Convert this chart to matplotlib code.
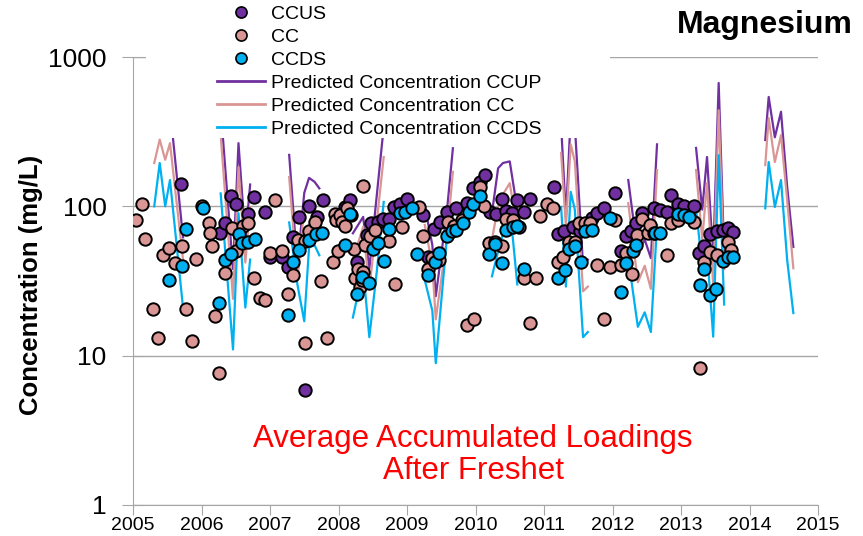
import numpy as np
import matplotlib
matplotlib.use("Agg")
import matplotlib.pyplot as plt
from matplotlib.patches import Rectangle
from matplotlib.lines import Line2D
from matplotlib.ticker import FixedLocator, NullLocator

plt.rcParams['font.family'] = ['Liberation Sans', 'DejaVu Sans']
nan = np.nan

ccus_t = [2005.70, 2006.27, 2006.34, 2006.43, 2006.51, 2006.68, 2006.77, 2006.93,
          2007.00, 2007.18, 2007.26, 2007.33, 2007.43, 2007.57, 2007.68, 2007.78,
          2007.51, 2008.09, 2008.17, 2008.27, 2008.41, 2008.48, 2008.58, 2008.65,
          2008.73, 2008.81, 2008.90, 2009.00, 2009.24, 2009.31, 2009.40, 2009.48,
          2009.58, 2009.72, 2009.87, 2009.97, 2010.07, 2010.14, 2010.21, 2010.30,
          2010.38, 2010.45, 2010.53, 2010.61, 2010.71, 2010.80, 2011.14, 2011.21,
          2011.29, 2011.42, 2011.52, 2011.62, 2011.70, 2011.77, 2011.87, 2012.03,
          2012.12, 2012.20, 2012.27, 2012.35, 2012.43, 2012.60, 2012.69, 2012.79,
          2012.86, 2012.96, 2013.04, 2013.19, 2013.27, 2013.34, 2013.42, 2013.52,
          2013.61, 2013.69, 2013.76]
ccus_v = [141, 66, 77, 118, 104, 89, 115, 92,
          46, 46, 39.5, 62, 85, 100, 85, 111,
          5.9, 99, 110, 42.5, 64, 77, 79, 82,
          82, 99, 104, 112, 87.5, 46, 71, 78,
          92, 97, 105, 132, 146, 162, 92, 89,
          112, 93, 90, 110, 92, 112, 134, 65,
          68, 73, 68, 69, 83, 90, 98, 123,
          50.5, 63, 68, 77, 90, 97, 94, 91,
          120, 103, 101, 101, 49, 54, 65, 68,
          69, 72, 67]

cc_t = [2005.05, 2005.13, 2005.18, 2005.29, 2005.37, 2005.44, 2005.52, 2005.62,
        2005.71, 2005.77, 2005.86, 2005.92, 2006.01, 2006.11, 2006.12, 2006.15,
        2006.19, 2006.26, 2006.34, 2006.44, 2006.51, 2006.61, 2006.68, 2006.77,
        2006.85, 2006.93, 2007.00, 2007.08, 2007.17, 2007.26, 2007.34, 2007.41,
        2007.51, 2007.51, 2007.57, 2007.66, 2007.75, 2007.83, 2007.92, 2007.95,
        2007.97, 2007.99, 2008.02, 2008.05, 2008.09, 2008.13, 2008.18, 2008.22,
        2008.24, 2008.28, 2008.31, 2008.34, 2008.36, 2008.36, 2008.39, 2008.46,
        2008.53, 2008.73, 2008.82, 2008.92, 2009.17, 2009.24, 2009.31, 2009.36,
        2009.46, 2009.60, 2009.68, 2009.80, 2009.87, 2009.98, 2010.06, 2010.13,
        2010.19, 2010.28, 2010.38, 2010.45, 2010.55, 2010.63, 2010.71, 2010.80,
        2010.89, 2010.94, 2011.04, 2011.13, 2011.21, 2011.28, 2011.36, 2011.45,
        2011.51, 2011.60, 2011.67, 2011.78, 2011.87, 2011.96, 2012.04, 2012.12,
        2012.20, 2012.29, 2012.36, 2012.43, 2012.52, 2012.55, 2012.60, 2012.79,
        2012.85, 2012.96, 2013.19, 2013.28, 2013.34, 2013.42, 2013.52, 2013.69,
        2013.73]
cc_v = [81, 103, 60, 20.5, 13.2, 47, 53, 41.5,
        54.5, 20.5, 12.5, 44.5, 101, 77, 66, 54.5,
        18.3, 7.6, 35.5, 72, 50.5, 74, 77, 33,
        24.2, 23.6, 49, 110, 50.5, 26, 34.7, 59.5,
        59, 12.1, 68, 79, 31.5, 13.2, 42.5, 89,
        81, 50.5, 87, 79, 74, 97, 87.5, 51.5,
        33, 38, 29, 32, 36.5, 137, 55, 63,
        69, 59, 30, 73, 99, 63, 38, 45,
        44, 79, 74, 81, 16, 17.7, 135, 101,
        56.5, 58, 54, 82, 81, 73, 33, 16.5,
        33, 86, 103, 97, 42.5, 46, 58, 58,
        77, 77, 77, 40.5, 17.7, 39.5, 81, 40.5,
        49, 35, 64, 82, 66, 75, 66, 47,
        77, 81, 79, 8.3, 42.5, 49.5, 47, 58,
        51]

ccds_t = [2005.53, 2005.71, 2005.78, 2006.02, 2006.25, 2006.35, 2006.43, 2006.55,
          2006.59, 2006.68, 2006.78, 2007.26, 2007.34, 2007.43, 2007.57, 2007.67,
          2007.76, 2008.09, 2008.17, 2008.27, 2008.34, 2008.44, 2008.51, 2008.58,
          2008.67, 2008.74, 2008.90, 2008.97, 2009.07, 2009.14, 2009.31, 2009.41,
          2009.47, 2009.58, 2009.65, 2009.72, 2009.82, 2009.90, 2009.97, 2010.06,
          2010.20, 2010.29, 2010.38, 2010.45, 2010.55, 2010.61, 2010.71, 2011.21,
          2011.30, 2011.36, 2011.45, 2011.54, 2011.60, 2011.70, 2011.96, 2012.12,
          2012.20, 2012.30, 2012.35, 2012.62, 2012.69, 2012.96, 2013.04, 2013.11,
          2013.28, 2013.33, 2013.42, 2013.51, 2013.62, 2013.68, 2013.76]
ccds_v = [32, 40, 70, 98, 22.5, 43.7, 48, 65,
          57, 58, 60, 18.7, 42.5, 51, 59.5, 65,
          66, 55, 89, 26, 33.5, 30.5, 52, 57,
          43, 71, 90, 92, 97, 48, 34.7, 42.5,
          49, 63, 68, 69, 77, 92, 103, 117,
          48, 56, 41.5, 69, 73, 74, 38, 33,
          37.4, 52, 54, 42.5, 68, 69, 84, 26.5,
          42, 50.5, 55, 66, 66, 89, 87, 85,
          29.7, 38, 25.5, 28, 43, 46, 46]

# --- predicted concentrations (nan = gap between runs)
pred_t = [2005.31, 2005.39, 2005.47, 2005.54, 2005.73, 2005.9,
          2006.28, 2006.46, 2006.54, 2006.64, 2006.71, 2006.9,
          2007.28, 2007.40, 2007.50, 2007.57, 2007.65, 2007.72, 2007.9,
          2008.21, 2008.36, 2008.45, 2008.56, 2008.66, 2008.9,
          2009.26, 2009.37, 2009.42, 2009.58, 2009.67, 2009.9,
          2010.24, 2010.33, 2010.40, 2010.50, 2010.61, 2010.9,
          2011.25, 2011.32, 2011.39, 2011.45, 2011.57, 2011.64, 2011.9,
          2012.23, 2012.37, 2012.47, 2012.56, 2012.65, 2012.9,
          2013.22, 2013.31, 2013.38, 2013.47, 2013.55, 2013.63, 2013.9,
          2014.23, 2014.28, 2014.37, 2014.46, 2014.55, 2014.64]
pred_ccup = [300, 500, 320, 450, 62, nan,
             450, 38, 265, 60, 140, nan,
             221, 40, 123, 155, 146, 132, nan,
             66, 85, 38, 120, 340, nan,
             100, 55, 25, 90, 245, nan,
             90, 180, 195, 200, 95, nan,
             350, 85, 400, 350, 40, 44, nan,
             150, 48, 60, 45, 260, nan,
             246, 95, 214, 45, 670, 48, nan,
             278, 540, 290, 430, 135, 53.5]
pred_cc = [195, 280, 205, 265, 44, nan,
           300, 24, 183, 42, 99, nan,
           157, 32, 99, 100, 95, 90, nan,
           44, 73, 28, 80, 214, nan,
           75, 40, 17.5, 60, 170, nan,
           60, 100, 120, 143, 70, nan,
           228, 73, 260, 200, 27, 29, nan,
           105, 31, 40, 28, 175, nan,
           175, 60, 143, 30, 440, 38, nan,
           189, 390, 198, 300, 110, 38.5]
pred_ccds = [100, 195, 100, 150, 21, nan,
             122, 11, 90, 21, 44, nan,
             78, 30, 17, 53, 55, 47, nan,
             18, 38, 13.3, 37, 107, nan,
             32, 20, 8.9, 60, 90, nan,
             34, 50, 65, 100, 30, nan,
             99, 29, 125, 95, 13.3, 14.4, nan,
             45, 15.6, 19.5, 14.4, 75, nan,
             95, 40, 50, 13.4, 220, 22, nan,
             97, 198, 99, 150, 43.7, 19.3]

years = list(range(2005, 2016))
ylevels = [1, 10, 100, 1000]

PURPLE, PINK, CYAN, GREY = "#7030A0", "#D99694", "#00B0F0", "#A6A6A6"

fig = plt.figure(figsize=(8.63, 5.36), dpi=100)
ax = fig.add_axes([133 / 863, 31 / 536, 685 / 863, 448 / 536])
ax.set_yscale("log")
ax.set_xlim(2005, 2015)
ax.set_ylim(1, 1000)

ax.plot(pred_t, pred_ccup, color=PURPLE, lw=1.6, zorder=2)
ax.plot(pred_t, pred_cc, color=PINK, lw=1.6, zorder=2)
ax.plot(pred_t, pred_ccds, color=CYAN, lw=1.6, zorder=2)

mk = dict(s=80, edgecolors="black", linewidths=1.4, zorder=3)
ax.scatter(ccus_t, ccus_v, c=PURPLE, **mk)
ax.scatter(cc_t, cc_v, c=PINK, **mk)
ax.scatter(ccds_t, ccds_v, c=CYAN, **mk)

# axes styling (Excel look)
for s in ("top", "right"):
    ax.spines[s].set_visible(False)
for s in ("left", "bottom"):
    ax.spines[s].set_color(GREY)
ax.set_axisbelow(True)
ax.grid(axis="y", color=GREY, lw=1)
ax.yaxis.set_major_locator(FixedLocator(ylevels))
ax.yaxis.set_minor_locator(NullLocator())
ax.set_yticklabels([str(v) for v in ylevels])
ax.set_xticks(years)
ax.set_xticklabels([str(y) for y in years])
ax.tick_params(axis="y", direction="inout", length=16, color=GREY, labelsize=19, pad=11)
ax.tick_params(axis="x", direction="out", length=7, color=GREY, labelsize=14, pad=2)

# white block behind the legend hides the tops of the spikes
fig.add_artist(Rectangle((146 / 863, 1 - 138 / 536), (610 - 146) / 863, 138 / 536,
                         transform=fig.transFigure, fc="white", ec="none", zorder=1))

dot = dict(ls="none", marker="o", ms=8, mec="black", mew=1.2)
handles = [Line2D([], [], mfc=PURPLE, **dot), Line2D([], [], mfc=PINK, **dot),
           Line2D([], [], mfc=CYAN, **dot),
           Line2D([], [], color=PURPLE, lw=2), Line2D([], [], color=PINK, lw=2),
           Line2D([], [], color=CYAN, lw=2)]
labels = ["CCUS", "CC", "CCDS", "Predicted Concentration CCUP",
          "Predicted Concentration CC", "Predicted Concentration CCDS"]
fig.legend(handles, labels, loc="upper left", bbox_to_anchor=(217 / 863, 1 - 5 / 536),
           frameon=False, fontsize=14, handlelength=2.45, handletextpad=0.35,
           labelspacing=0.28, borderpad=0, borderaxespad=0)

fig.text(677 / 863, 1 - 25 / 536, "Magnesium", fontsize=23, fontweight="bold",
         ha="left", va="center")
fig.text(31 / 863, 1 - 285 / 536, "Concentration (mg/L)", rotation=90, fontsize=18.5,
         fontweight="bold", ha="center", va="center")
fig.text(473 / 863, 1 - 455 / 536, "Average Accumulated Loadings\nAfter Freshet",
         color="red", fontsize=22.5, ha="center", va="center", linespacing=1.05)

fig.savefig("out.png", dpi=100)
